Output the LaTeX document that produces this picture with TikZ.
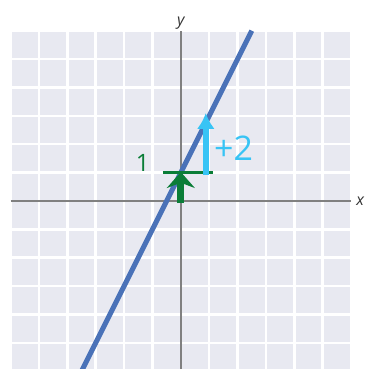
\documentclass[tikz,border=0pt]{standalone}
\usepackage{fontspec}
\setsansfont{Open Sans}
\usepackage{tikz}
\usetikzlibrary{arrows.meta}
\definecolor{cellgray}{RGB}{232,233,241}
\definecolor{axisgray}{RGB}{128,128,128}
\definecolor{lineblue}{RGB}{74,114,184}
\definecolor{penGreen}{RGB}{10,125,55}
\definecolor{penCyan}{RGB}{56,196,245}

\begin{document}
\begin{tikzpicture}[
  axislabel/.style={inner sep=1pt, font=\sffamily\itshape\fontsize{16}{16}\selectfont, text=black!80},
  penlabel/.style={inner sep=0pt, font=\sffamily},
  greenarr/.style={penGreen, line width=7pt, -{Stealth[length=16pt, width=28pt]}},
  cyanarr/.style={penCyan, line width=6pt, -{Latex[length=16pt, width=18pt]}},
]
\clip (-6.37,-5.92) rectangle (6.51,7.08);
\fill[white] (-6.37,-5.92) rectangle (6.51,7.08);
% grid
\fill[cellgray] (-6,-6.3) rectangle (6,6);
\draw[white, line width=2.5pt] (-6,-6.3) grid (6,6);
% axes
\draw[axisgray, line width=2pt] (-6,0) -- (6,0);
\draw[axisgray, line width=2pt] (0,-6.3) -- (0,6);
\node[axislabel, above] (ylab) at (0,6) {y};
\node[axislabel, right, xshift=4pt] (xlab) at (6,0) {x};
% y = 2x + 1
\draw[lineblue, line width=5pt] (-3.6,-6.2) -- (2.5,6);
% rise and intercept
\coordinate (orig) at (0,-0.08);
\coordinate (icpt) at (0,1.02);
\coordinate (runA) at (-0.63,1.02);
\coordinate (runB) at (1.13,1.02);
\coordinate (riseA) at (0.88,0.92);
\coordinate (riseB) at (0.88,3.1);
\draw[greenarr] (orig) -- (icpt);
\draw[penGreen, line width=3pt] (runA) -- (runB);
\draw[cyanarr] (riseA) -- (riseB);
\node[penlabel, text=penGreen, font=\sffamily\fontsize{24}{24}\selectfont] (one) at (-1.34,1.34) {1};
\node[penlabel, text=penCyan, font=\sffamily\fontsize{34}{34}\selectfont] (two) at (1.86,1.87) {+2};
\end{tikzpicture}
\end{document}
